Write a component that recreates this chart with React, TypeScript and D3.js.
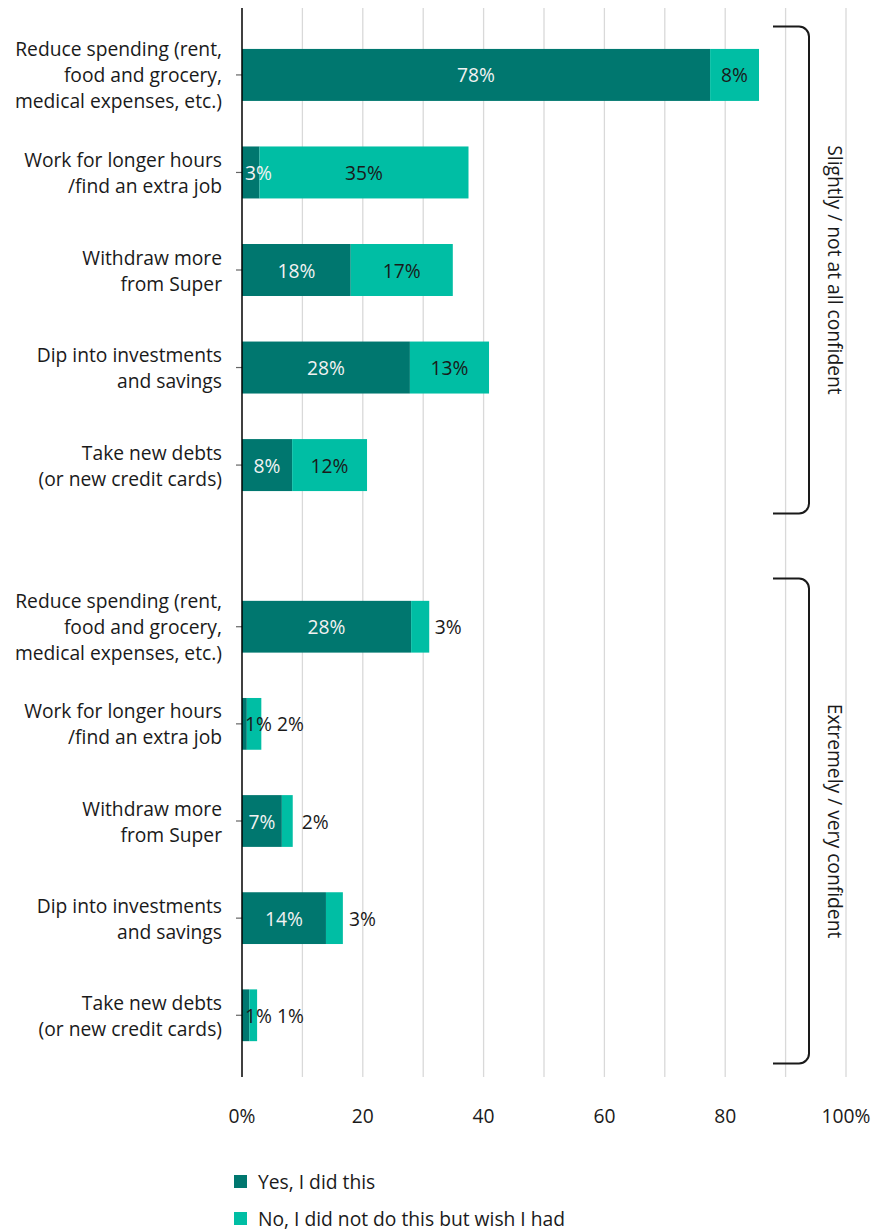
import React from "react";
import * as d3 from "d3";

const categories = [
  ["Reduce spending (rent,", "food and grocery,", "medical expenses, etc.)"],
  ["Work for longer hours", "/find an extra job"],
  ["Withdraw more", "from Super"],
  ["Dip into investments", "and savings"],
  ["Take new debts", "(or new credit cards)"],
];
const groups = ["Slightly / not at all confident", "Extremely / very confident"];
const yesValues = [
  [77.5, 2.9, 18.0, 27.8, 8.3],
  [28.0, 0.8, 6.6, 13.9, 1.2],
];
const noValues = [
  [8.1, 34.6, 16.9, 13.1, 12.4],
  [3.0, 2.4, 1.8, 2.8, 1.3],
];
const xTicks = [0, 20, 40, 60, 80, 100];
const gridTicks = [10, 20, 30, 40, 50, 60, 70, 80, 90, 100];
const seriesNames = ["Yes, I did this", "No, I did not do this but wish I had"];

const W = 877;
const H = 1231;
const FONT = "'Open Sans', 'Noto Sans', sans-serif";
const FS = 19.25;
const DARK = "#00776f";
const LIGHT = "#00bea4";
const TEXT = "#1a1a1a";

let ctx: CanvasRenderingContext2D | null = null;
function textWidth(s: string) {
  if (!ctx) ctx = document.createElement("canvas").getContext("2d");
  if (!ctx) return s.length * 12;
  ctx.font = `${FS}px ${FONT}`;
  return ctx.measureText(s).width;
}

export default function App() {
  const x = d3.scaleLinear().domain([0, 100]).range([242, 846]);
  const groupRanges: [number, number][] = [
    [26.5, 513.5],
    [578.5, 1063.5],
  ];
  const bands = groupRanges.map((r) =>
    d3
      .scaleBand<number>()
      .domain(d3.range(categories.length))
      .range(r)
      .paddingInner(0.467)
      .paddingOuter(0.23)
  );
  const plotTop = 8;
  const plotBottom = 1077;
  const fmt = (v: number) => `${Math.round(v)}%`;

  const bracket = (r: [number, number]) => {
    const x0 = 773;
    const xv = 809;
    const rad = 10;
    const [y0, y1] = r;
    const p = d3.path();
    p.moveTo(x0, y0);
    p.lineTo(xv - rad, y0);
    p.arcTo(xv, y0, xv, y0 + rad, rad);
    p.lineTo(xv, y1 - rad);
    p.arcTo(xv, y1, xv - rad, y1, rad);
    p.lineTo(x0, y1);
    return p.toString();
  };

  return (
    <div style={{ position: "absolute", left: 0, top: 0 }}>
      <svg width={W} height={H} style={{ display: "block", fontFamily: FONT }}>
        <rect width={W} height={H} fill="#fff" />
        {gridTicks.map((t) => (
          <line key={t} x1={x(t)} x2={x(t)} y1={plotTop} y2={plotBottom} stroke="#d9d9d9" strokeWidth={1.3} />
        ))}
        {groups.map((g, gi) => {
          const b = bands[gi];
          return (
            <g key={g}>
              {categories.map((cat, ci) => {
                const y0 = b(ci)!;
                const bh = b.bandwidth();
                const cy = y0 + bh / 2;
                const yv = yesValues[gi][ci];
                const nv = noValues[gi][ci];
                const xs = x(0);
                const xm = x(yv);
                const xe = x(yv + nv);
                const yl = fmt(yv);
                const nl = fmt(nv);
                const yw = textWidth(yl);
                const nw = textWidth(nl);
                const yx = Math.max((xs + xm) / 2, xs + 3 + yw / 2);
                const inside = xe - xm >= nw + 8;
                const nx = inside
                  ? (xm + xe) / 2
                  : Math.max((xm + xe) / 2 + 28, yx + yw / 2 + 5 + nw / 2);
                const lineH = 26;
                const n = cat.length;
                return (
                  <g key={ci}>
                    <line x1={236} x2={242} y1={cy} y2={cy} stroke="#666" strokeWidth={1.2} />
                    {cat.map((line, li) => (
                      <text
                        key={li}
                        x={222}
                        y={cy + (li - (n - 1) / 2) * lineH}
                        textAnchor="end"
                        dominantBaseline="central"
                        fontSize={FS}
                        fill={TEXT}
                      >
                        {line}
                      </text>
                    ))}
                    <rect x={xs} y={y0} width={xm - xs} height={bh} fill={DARK} />
                    <rect x={xm} y={y0} width={xe - xm} height={bh} fill={LIGHT} />
                    <text x={yx} y={cy} textAnchor="middle" dominantBaseline="central" fontSize={FS} fill={yv >= 2 ? "#f2f2f2" : TEXT}>
                      {yl}
                    </text>
                    <text x={nx} y={cy} textAnchor="middle" dominantBaseline="central" fontSize={FS} fill={TEXT}>
                      {nl}
                    </text>
                  </g>
                );
              })}
              <path d={bracket(groupRanges[gi])} fill="none" stroke="#1a1a1a" strokeWidth={2} />
              <text
                transform={`translate(835, ${(groupRanges[gi][0] + groupRanges[gi][1]) / 2}) rotate(90)`}
                textAnchor="middle"
                dominantBaseline="central"
                fontSize={FS}
                fill={TEXT}
              >
                {g}
              </text>
            </g>
          );
        })}
        <line x1={x(0)} x2={x(0)} y1={plotTop} y2={plotBottom} stroke="#000" strokeWidth={1.5} />
        {xTicks.map((t) => (
          <text key={t} x={x(t)} y={1115} textAnchor="middle" dominantBaseline="central" fontSize={FS} fill={TEXT}>
            {t === 0 || t === 100 ? `${t}%` : t}
          </text>
        ))}
        {seriesNames.map((s, i) => (
          <g key={s}>
            <rect x={234} y={1175 + i * 37} width={13} height={13} fill={i === 0 ? DARK : LIGHT} />
            <text x={258} y={1181.5 + i * 37} dominantBaseline="central" fontSize={FS} fill={TEXT}>
              {s}
            </text>
          </g>
        ))}
      </svg>
    </div>
  );
}
